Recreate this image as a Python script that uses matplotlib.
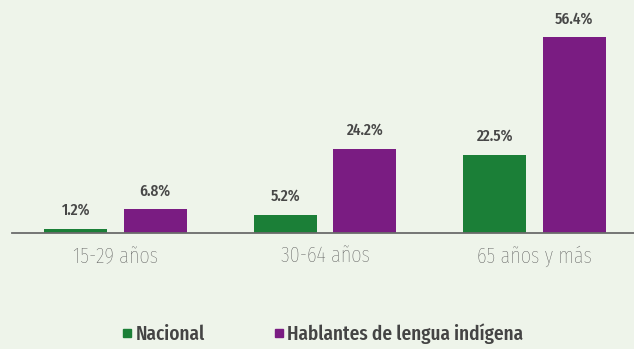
import numpy as np
import matplotlib.pyplot as plt
from matplotlib.lines import Line2D

grupos = ['15-29 años', '30-64 años', '65 años y más']
nacional = [1.2, 5.2, 22.5]
hablantes = [6.8, 24.2, 56.4]
series = ['Nacional', 'Hablantes de lengua indígena']

verde = '#1b7f37'
morado = '#7a1c82'
fondo = '#eef4ea'
gris = '#555555'

plt.rcParams['font.family'] = ['Fira Sans Extra Condensed', 'Archivo Narrow', 'DejaVu Sans']
plt.rcParams['font.stretch'] = 'condensed'

fig = plt.figure(figsize=(6.34, 3.49), dpi=100, facecolor=fondo)
ax = fig.add_axes([12 / 634, 116 / 349, 622 / 634, 233 / 349])
ax.set_facecolor(fondo)

x = np.arange(len(grupos))
w = 0.30
off = 0.19
b1 = ax.bar(x - off, nacional, w, color=verde)
b2 = ax.bar(x + off, hablantes, w, color=morado)

for bars, vals in ((b1, nacional), (b2, hablantes)):
    for b, v in zip(bars, vals):
        ax.annotate(f'{v:.1f}%', (b.get_x() + b.get_width() / 2, v),
                    xytext=(0, 7.5), textcoords='offset points',
                    ha='center', va='bottom', fontsize=12,
                    color='#474747', fontweight='medium')

ax.set_xlim(-0.494, 2.475)
ax.set_ylim(0, 67.05)
for s in ['top', 'right', 'left']:
    ax.spines[s].set_visible(False)
ax.spines['bottom'].set_color('#6b6b6b')
ax.spines['bottom'].set_linewidth(1.3)
ax.set_yticks([])
ax.set_xticks(x)
ax.set_xticklabels(grupos, fontsize=16, color=gris, fontweight='light')
ax.tick_params(axis='x', length=0, pad=9)

handles = [Line2D([], [], marker='s', linestyle='none', markersize=6, color=c)
           for c in (verde, morado)]
fig.legend(handles, series, loc='center left', bbox_to_anchor=(102 / 634, 1 - 334 / 349),
           ncol=2, frameon=False, labelcolor='#444444',
           handlelength=0.6, handletextpad=0.1, columnspacing=3.25,
           prop={'weight': 'medium', 'size': 15})

fig.savefig('out.png', dpi=100, facecolor=fondo)
